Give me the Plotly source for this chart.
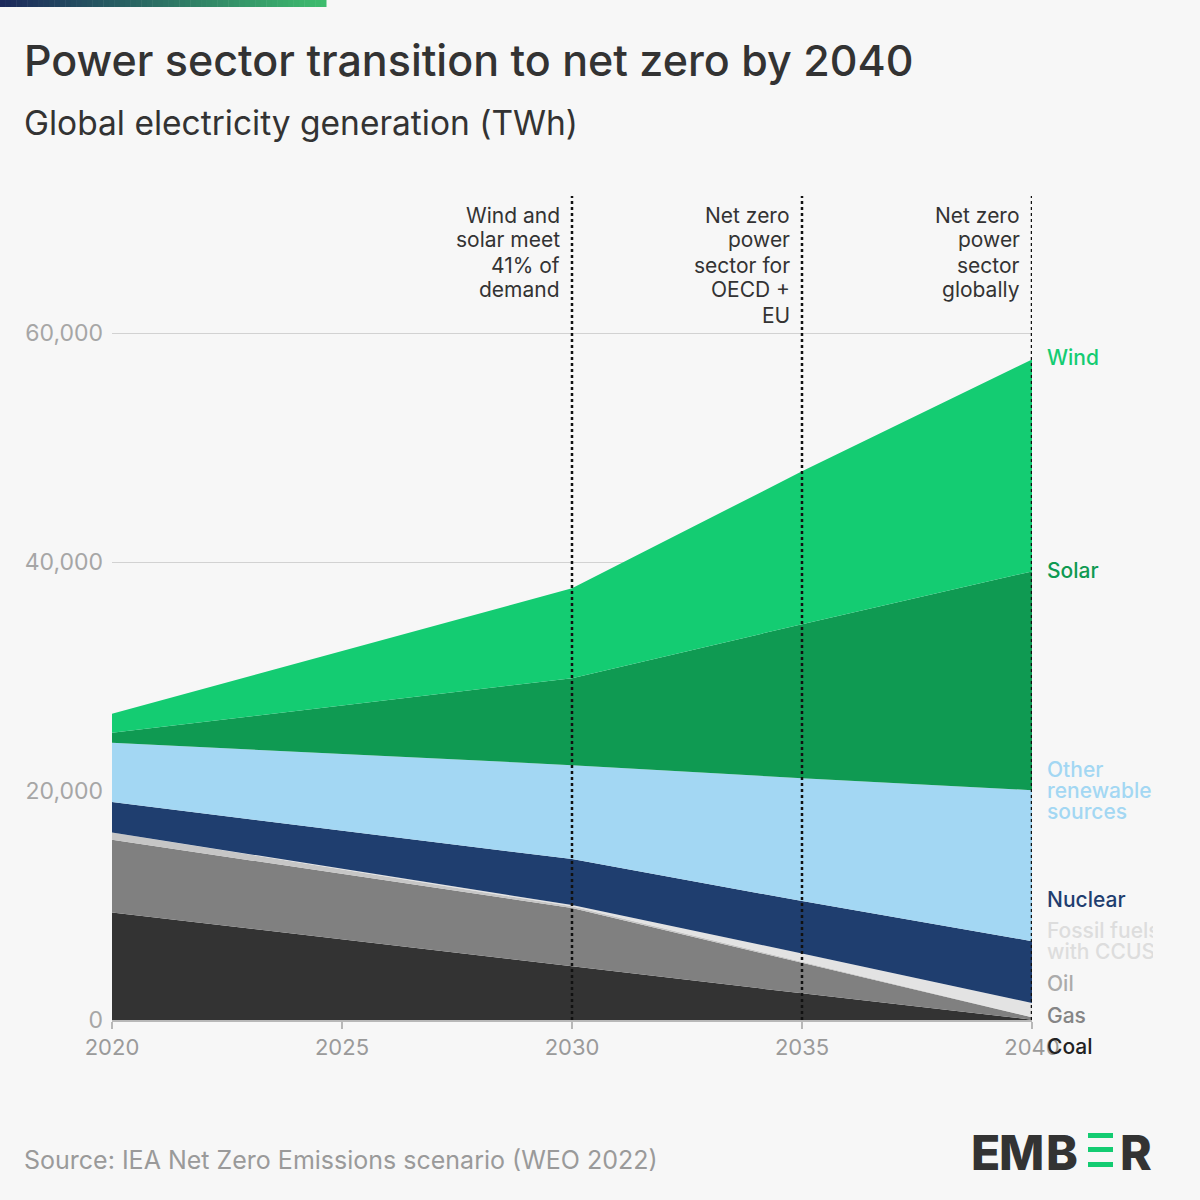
import plotly.graph_objects as go

# ---------------- data (TWh) ----------------
years = [2020, 2030, 2035, 2040]
coal = [9400, 4650, 2330, 30]
gas = [6350, 5130, 2680, 200]
oil = [640, 150, 80, 20]
ccus = [0, 110, 730, 1230]
nuclear = [2650, 4020, 4570, 5410]
other_renewables = [5180, 8210, 10740, 13190]
solar = [870, 7600, 13450, 19120]
wind = [1660, 7860, 13360, 18510]

series_names = ["Coal", "Gas", "Oil", "Fossil fuels with CCUS", "Nuclear",
                "Other renewable sources", "Solar", "Wind"]
series_values = [coal, gas, oil, ccus, nuclear, other_renewables, solar, wind]
series_colors = ["#333333", "#808080", "#c6c6c6", "#e3e3e3", "#1f3e6f",
                 "#a3d7f3", "#0f9a52", "#14cc72"]

milestone_years = [2030, 2035, 2040]
milestone_texts = [
    ["Wind and", "solar meet", "41% of", "demand"],
    ["Net zero", "power", "sector for", "OECD +", "EU"],
    ["Net zero", "power", "sector", "globally"],
]

# right-side labels: lines and label colors
right_labels = [
    (["Wind"], "#14cc72", 357),
    (["Solar"], "#0f9a52", 570),
    (["Other", "renewable", "sources"], "#a3d7f3", 769),
    (["Nuclear"], "#1f3e6f", 899),
    (["Fossil fuels", "with CCUS"], "#dddddd", 930),
    (["Oil"], "#ababab", 983),
    (["Gas"], "#858585", 1015),
    (["Coal"], "#222222", 1046),
]

# ---------------- layout geometry (pixels) ----------------
W, H = 1200, 1200
L, R_, T, B = 112, 1032, 196, 1020
PW, PH = R_ - L, B - T
FONT = "Inter"
BG = "#f7f7f7"


def px(x):
    return (x - L) / PW


def py(y):
    return (B - y) / PH


fig = go.Figure()
for name, vals, col in zip(series_names, series_values, series_colors):
    fig.add_trace(go.Scatter(
        x=years, y=vals, name=name, mode="lines",
        stackgroup="one", line=dict(width=0, color=col),
        fillcolor=col, hoverinfo="skip", showlegend=False,
    ))

shapes = []
annotations = []

# dotted milestone lines
for yr in milestone_years:
    shapes.append(dict(type="line", xref="x", yref="paper", x0=yr, x1=yr,
                       y0=0, y1=1, line=dict(color="#111111", width=2.5, dash="dot"),
                       layer="above"))

# milestone texts
for yr, lines in zip(milestone_years, milestone_texts):
    for i, t in enumerate(lines):
        annotations.append(dict(xref="x", yref="paper", x=yr, xshift=-10,
                                y=py(215 + 25 * i), xanchor="right", yanchor="middle",
                                text=t, showarrow=False,
                                font=dict(family=FONT, size=21, color="#333333")))

# right labels (clipped at the right edge)
for lines, col, y0 in right_labels:
    for i, t in enumerate(lines):
        annotations.append(dict(xref="paper", yref="paper", x=px(1045), y=py(y0 + 21 * i),
                                xanchor="left", yanchor="middle", align="left",
                                width=106, text=t, showarrow=False,
                                font=dict(family=FONT, size=21, color=col, weight=500)))

# title and subtitle
annotations.append(dict(xref="paper", yref="paper", x=px(22), y=py(60),
                        xanchor="left", yanchor="middle", showarrow=False,
                        text="Power sector transition to net zero by 2040",
                        font=dict(family=FONT, size=43, color="#333333", weight=500)))
annotations.append(dict(xref="paper", yref="paper", x=px(22), y=py(123),
                        xanchor="left", yanchor="middle", showarrow=False,
                        text="Global electricity generation (TWh)",
                        font=dict(family=FONT, size=33.5, color="#333333")))
# source
annotations.append(dict(xref="paper", yref="paper", x=px(22), y=py(1160),
                        xanchor="left", yanchor="middle", showarrow=False,
                        text="Source: IEA Net Zero Emissions scenario (WEO 2022)",
                        font=dict(family=FONT, size=25, color="#9a9a9a")))

# EMBER logo
for letter, lx in [("E", 969), ("M", 997), ("B", 1044), ("R", 1118)]:
    annotations.append(dict(xref="paper", yref="paper", x=px(lx), y=py(1152),
                            xanchor="left", yanchor="middle", showarrow=False,
                            text=letter,
                            font=dict(family=FONT, size=48, color="#333333", weight=800)))
for y0 in [1133, 1147, 1162]:
    shapes.append(dict(type="rect", xref="paper", yref="paper",
                       x0=px(1088), x1=px(1113), y0=py(y0 + 5), y1=py(y0),
                       fillcolor="#14cc72", line=dict(width=0)))

# top gradient bar
n = 60
c0, c1 = (28, 42, 92), (62, 188, 110)
for i in range(n):
    f = i / (n - 1)
    col = "rgb(%d,%d,%d)" % tuple(int(a + (b - a) * f) for a, b in zip(c0, c1))
    shapes.append(dict(type="rect", xref="paper", yref="paper",
                       x0=px(326 * i / n), x1=px(326 * (i + 1) / n + 0.5),
                       y0=py(7), y1=py(0), fillcolor=col, line=dict(width=0)))

fig.update_layout(
    width=W, height=H,
    margin=dict(l=L, r=W - R_, t=T, b=H - B),
    paper_bgcolor=BG, plot_bgcolor=BG,
    showlegend=False,
    shapes=shapes, annotations=annotations,
    xaxis=dict(range=[2020, 2040], tickmode="array",
               tickvals=[2020, 2025, 2030, 2035, 2040],
               ticktext=["2020", "2025", "2030", "2035", "2040"],
               showgrid=False, zeroline=False,
               showline=True, linecolor="#b8b8b8", linewidth=1.5,
               ticks="outside", ticklen=7, tickcolor="#b8b8b8", tickwidth=1.5,
               tickfont=dict(family=FONT, size=22, color="#9a9a9a")),
    yaxis=dict(range=[0, 72000], tickmode="array",
               tickvals=[0, 20000, 40000, 60000],
               ticktext=["0", "20,000", "40,000", "60,000"],
               showgrid=True, gridcolor="#d2d2d2", gridwidth=1,
               zeroline=False, showline=False, ticks="",
               ticklabelstandoff=8,
               tickfont=dict(family=FONT, size=23, color="#a6a6a6")),
    hovermode=False,
)

fig.write_html("out.html", config={"displayModeBar": False},
               post_script="document.body.style.margin='0';document.body.style.padding='0';")
